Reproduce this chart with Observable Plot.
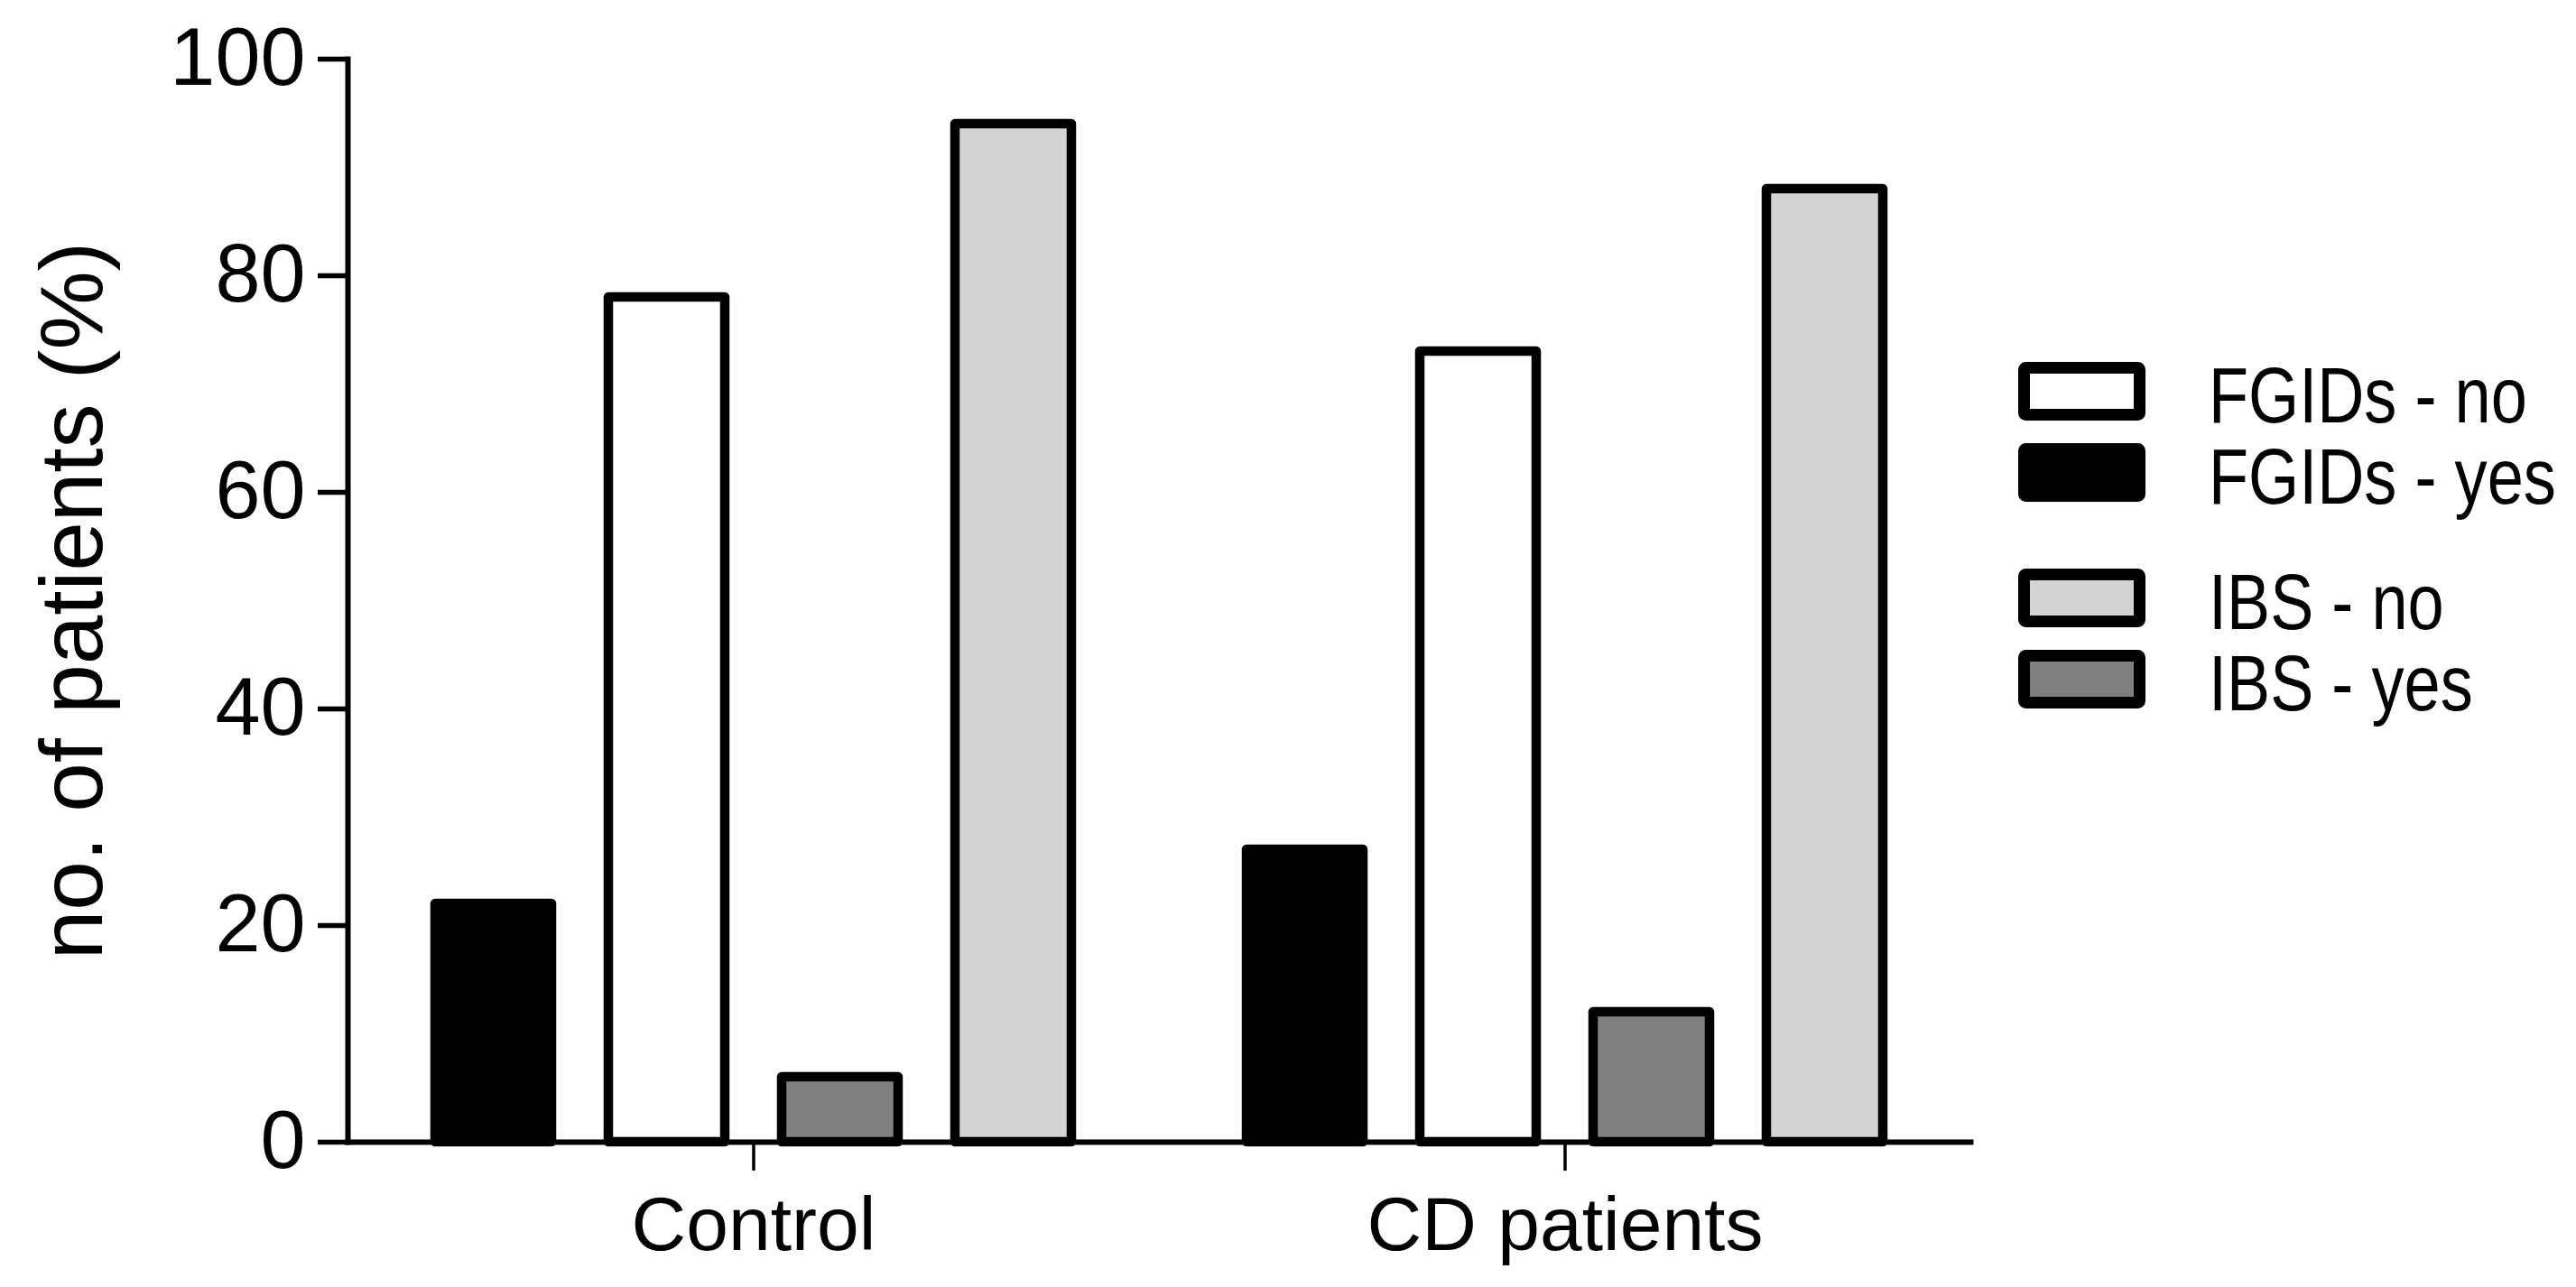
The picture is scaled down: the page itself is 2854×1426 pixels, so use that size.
<!DOCTYPE html>
<html>
<head>
<meta charset="utf-8">
<script src="https://cdn.jsdelivr.net/npm/d3@7"></script>
<script src="https://cdn.jsdelivr.net/npm/@observablehq/plot@0.6"></script>
<style>
  html, body { margin: 0; padding: 0; background: #fff; overflow: hidden; }
  #wrap { position: relative; width: 2854px; height: 1426px; }
  #legend { position: absolute; left: 2200px; top: 380px; }
</style>
</head>
<body>
<div id="wrap"><div id="chart"></div><div id="legend"></div></div>
<script>
// ---- data ----
const groups = ["Control", "CD patients"];
const series = ["FGIDs - yes", "FGIDs - no", "IBS - yes", "IBS - no"];
const controlValues = [22, 78, 6, 94];
const cdValues = [27, 73, 12, 88];
const seriesFills = ["#000000", "#ffffff", "#7f7f7f", "#d3d3d3"];
const legendOrder = ["FGIDs - no", "FGIDs - yes", "IBS - no", "IBS - yes"];
const yTicks = [0, 20, 40, 60, 80, 100];
const yLabel = "no. of patients (%)";

const valuesByGroup = [controlValues, cdValues];
const data = groups.flatMap((g, gi) =>
  series.map((s, si) => ({group: g, series: s, value: valuesByGroup[gi][si]}))
);

const font = "'Liberation Sans', Arial, Helvetica, sans-serif";

const chart = Plot.plot({
  width: 2854,
  height: 1426,
  marginLeft: 385,
  marginRight: 671,
  marginTop: 65,
  marginBottom: 161,
  style: {fontFamily: font, color: "#000", background: "#fff"},
  fx: {domain: groups, padding: 0},
  x: {domain: series, paddingInner: 0.33, paddingOuter: 0.505, axis: null},
  y: {domain: [0, 100]},
  color: {domain: series, range: seriesFills},
  marks: [
    Plot.barY(data, {
      fx: "group", x: "series", y: "value", fill: "series",
      stroke: "#000", strokeWidth: 10.5, strokeLinejoin: "round"
    }),
    Plot.frame({anchor: "left", facet: "super", stroke: "#000", strokeWidth: 6}),
    Plot.frame({anchor: "bottom", facet: "super", stroke: "#000", strokeWidth: 6}),
    Plot.axisY({ticks: yTicks, tickSize: 33, tickPadding: 14, fontSize: 90, strokeWidth: 5.5, label: null}),
    Plot.axisY({ticks: [], tickSize: 0, label: yLabel, labelAnchor: "center", labelOffset: 342, labelArrow: "none", fontSize: 98}),
    Plot.axisFx({anchor: "bottom", tickSize: 32, tickPadding: 28, fontSize: 84, strokeWidth: 3.5, label: null})
  ]
});
document.getElementById("chart").appendChild(chart);

// ---- legend ----
const color = chart.scale("color");
const rowTops = [21, 111, 250, 340]; // swatch outer tops relative to legend box
const lg = d3.select("#legend").append("svg")
  .attr("width", 654).attr("height", 440)
  .style("font-family", font);
const rows = lg.selectAll("g").data(legendOrder).join("g")
  .attr("transform", (d, i) => `translate(0,${rowTops[i]})`);
rows.append("rect")
  .attr("x", 42.5).attr("y", 6.5).attr("width", 128).attr("height", 52).attr("rx", 2)
  .attr("fill", d => color.apply(d))
  .attr("stroke", "#000").attr("stroke-width", 13).attr("stroke-linejoin", "round");
rows.append("text")
  .attr("transform", "translate(247,67) scale(0.82,1)")
  .attr("font-size", 88)
  .attr("fill", "#000")
  .text(d => d);
</script>
</body>
</html>
